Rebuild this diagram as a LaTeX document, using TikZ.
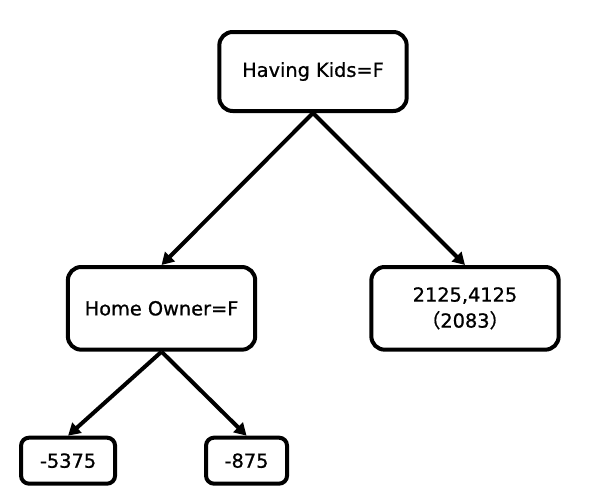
\documentclass[tikz,border=0pt]{standalone}
\usepackage{fontspec}
\setmainfont{DejaVu Sans}[BoldFont={DejaVu Sans}, BoldFeatures={FakeBold=0.8}]
\newfontfamily\cjk{Noto Sans CJK SC}[BoldFont={Noto Sans CJK SC}, BoldFeatures={FakeBold=0.8}]
\usetikzlibrary{positioning}
\usetikzlibrary{arrows.meta}

\begin{document}
\begin{tikzpicture}[
  x=0.75pt, y=-0.75pt,
  font=\fontsize{14.5}{19.5}\selectfont\bfseries,
  box/.style={draw, line width=3pt, rounded corners=10pt, align=center, minimum width=140.5pt, minimum height=62pt, fill=white},
  leaf/.style={draw, line width=3pt, rounded corners=6pt, align=center, minimum height=34.5pt},
  arrow/.style={-{Triangle[length=9pt, width=10pt]}, line width=3pt}
]
\useasboundingbox (0,0) rectangle (592,490);

\node[box, minimum height=59.25pt] (kids) at (313,71.5) {Having Kids=F};

\node[box, below=114pt of kids, xshift=-113.6pt] (owner) {Home Owner=F};
\node[box, below=114pt of kids, xshift=114pt] (yes) {2125,4125\\{\cjk （}2083{\cjk ）}};

\node[leaf, minimum width=70.5pt, below=63pt of owner, xshift=-70.1pt] (neg1) {-5375};
\node[leaf, minimum width=60.75pt, below=63pt of owner, xshift=63.75pt] (neg2) {-875};

\draw[arrow] (kids.south) -- (owner.north);
\draw[arrow] (kids.south) -- (yes.north);

\draw[arrow] (owner.south) -- (neg1.north);
\draw[arrow] (owner.south) -- (neg2.north);

\end{tikzpicture}
\end{document}
